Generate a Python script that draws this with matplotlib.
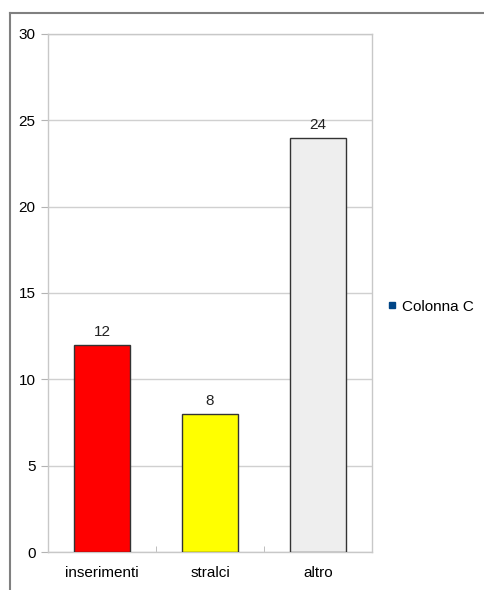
import numpy as np
import matplotlib
matplotlib.use('Agg')
import matplotlib.pyplot as plt
from matplotlib.lines import Line2D

categories = ['inserimenti', 'stralci', 'altro']
values = [12, 8, 24]
bar_colors = ['#ff0000', '#ffff00', '#eeeeee']
yticks = [0, 5, 10, 15, 20, 25, 30]

plt.rcParams['font.family'] = ['Liberation Sans', 'DejaVu Sans']
plt.rcParams['font.size'] = 11

fig = plt.figure(figsize=(4.85, 5.9), dpi=100)
ax = fig.add_axes([0.099, 0.0644, 0.668, 0.878])

x = np.arange(len(categories))
ax.bar(x, values, width=0.51, color=bar_colors, edgecolor='#333333',
       linewidth=1.0, zorder=3)
for xi, v in zip(x, values):
    ax.text(xi, v + 0.35, str(v), ha='center', va='bottom', fontsize=11,
            color='#222222')

ax.set_xlim(-0.5, len(categories) - 0.5)
ax.set_ylim(0, 30)
ax.set_yticks(yticks)
ax.set_xticks(x)
ax.set_xticklabels(categories)
ax.set_xticks([0.5, 1.5], minor=True)
ax.tick_params(axis='x', which='major', length=0, pad=10)
ax.tick_params(axis='x', which='minor', length=4, color='#b3b3b3', direction='in')
ax.tick_params(axis='y', length=5, color='#b3b3b3', pad=4)
ax.yaxis.grid(True, color='#d0d0d0', linewidth=1.0, zorder=0)
for s in ax.spines.values():
    s.set_color('#c8c8c8')
    s.set_linewidth(1.0)

# legend
leg_handle = Line2D([], [], marker='s', linestyle='none', color='#004586',
                    markersize=5)
ax.legend([leg_handle], ['Colonna C'], loc='center left',
          bbox_to_anchor=(0.775, 0.48), bbox_transform=fig.transFigure,
          frameon=False, handlelength=0.7, borderpad=0.2,
          handletextpad=0.3, fontsize=11)

# outer frame
fig.add_artist(Line2D([10 / 485, 10 / 485], [0, 1 - 13 / 590],
                      transform=fig.transFigure, color='#808080', linewidth=1.5))
fig.add_artist(Line2D([10 / 485, 1], [1 - 13 / 590, 1 - 13 / 590],
                      transform=fig.transFigure, color='#808080', linewidth=1.5))

fig.savefig('out.png', dpi=100)
